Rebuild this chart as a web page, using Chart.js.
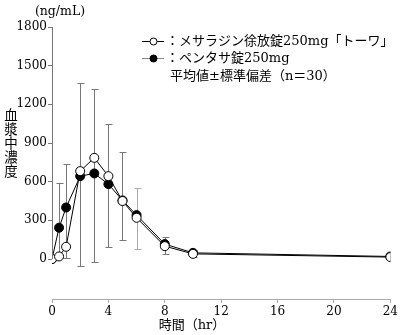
<!DOCTYPE html>
<html>
<head>
<meta charset="utf-8">
<script src="https://cdn.jsdelivr.net/npm/chart.js@4"></script>
<style>
  body { margin: 0; background: #fff; }
  canvas { display: block; }
</style>
</head>
<body>
<canvas id="chart" width="400" height="335"></canvas>
<script>
// Time points (hr) and mean plasma concentrations (ng/mL)
const times = [0, 0.5, 1, 2, 3, 4, 5, 6, 8, 10, 24];
const towa = [0, 20, 95, 682, 785, 643, 450, 320, 100, 40, 15];
const pentasa = [0, 243, 400, 643, 664, 581, 455, 341, 116, 48, 20];

// Error bar ends (mean ± SD)
const barTop = [0, 591, 741, 1369, 1317, 1044, 832, 553, 173, 70, 20];
const barBottom = [0, 5, 5, -54, -21, 95, 147, 78, 36, 15, 20];

const yTicks = [0, 300, 600, 900, 1200, 1500, 1800];
const xTicks = [0, 4, 8, 12, 16, 20, 24];

const legendLabels = ['：メサラジン徐放錠250mg「トーワ」', '：ペンタサ錠250mg', '平均値±標準偏差（n＝30）'];
const yTitle = '血漿中濃度';
const yUnit = '(ng/mL)';
const xTitle = '時間（hr）';

const serif = "'DejaVu Serif', 'Liberation Serif', serif";
const jp = "'DejaVu Serif', 'Noto Sans CJK JP', sans-serif";

const barColors = ['#777', '#777', '#777', '#777', '#777', '#777', '#777', '#aaa', '#777', '#777', '#777'];

const overlay = {
    id: 'overlay',
    beforeDatasetsDraw(chart) {
        const ctx = chart.ctx;
        const x = chart.scales.x, y = chart.scales.y;
        ctx.save();
        ctx.lineWidth = 1;
        times.forEach((t, i) => {
            if (barTop[i] === barBottom[i]) return;
            const px = Math.round(x.getPixelForValue(t)) + 0.5;
            const top = Math.round(y.getPixelForValue(barTop[i])) + 0.5;
            const bot = Math.round(y.getPixelForValue(barBottom[i])) + 0.5;
            ctx.strokeStyle = barColors[i];
            ctx.beginPath();
            ctx.moveTo(px, top); ctx.lineTo(px, bot);
            ctx.moveTo(px - 3, top); ctx.lineTo(px + 4, top);
            ctx.moveTo(px - 3, bot); ctx.lineTo(px + 4, bot);
            ctx.stroke();
        });
        ctx.restore();
    },
    afterDraw(chart) {
        const ctx = chart.ctx;
        const x = chart.scales.x, y = chart.scales.y;
        ctx.save();

        // y axis line only over the data range
        const ax = Math.round(x.getPixelForValue(0)) + 0.5;
        ctx.strokeStyle = '#777';
        ctx.lineWidth = 1;
        ctx.beginPath();
        ctx.moveTo(ax, y.getPixelForValue(1800));
        ctx.lineTo(ax, y.getPixelForValue(0));
        ctx.stroke();

        ctx.fillStyle = '#000';
        ctx.textBaseline = 'middle';

        // unit above the y axis
        ctx.font = '12.5px ' + serif;
        ctx.textAlign = 'center';
        ctx.fillText(yUnit, 60, 12);

        // vertical y title, stacked characters
        ctx.font = '13.5px ' + jp;
        [...yTitle].forEach((ch, i) => ctx.fillText(ch, 11, 116 + i * 14));

        // x title
        ctx.font = '13px ' + jp;
        ctx.fillText(xTitle, 192, 326);

        // legend
        const rows = [41, 58, 76];
        ctx.textAlign = 'left';
        for (let r = 0; r < 2; r++) {
            const ly = rows[r] + 0.5;
            ctx.strokeStyle = r === 0 ? '#000' : '#888';
            ctx.beginPath();
            ctx.moveTo(142, ly); ctx.lineTo(164, ly);
            ctx.stroke();
            ctx.beginPath();
            ctx.arc(153.5, ly, 3.5, 0, Math.PI * 2);
            ctx.fillStyle = r === 0 ? '#fff' : '#000';
            ctx.fill();
            ctx.strokeStyle = '#000';
            ctx.stroke();
            ctx.fillStyle = '#000';
            ctx.fillText(legendLabels[r], 166, rows[r] + 1);
        }
        ctx.fillText(legendLabels[2], 170, rows[2] + 1);
        ctx.restore();
    }
};

new Chart(document.getElementById('chart'), {
    type: 'line',
    data: {
        datasets: [
            {
                label: 'メサラジン徐放錠250mg「トーワ」',
                data: times.map((t, i) => ({ x: t, y: towa[i] })),
                borderColor: '#000',
                borderWidth: 1,
                pointRadius: 4.5,
                pointBackgroundColor: '#fff',
                pointBorderColor: '#000',
                pointBorderWidth: 1,
                tension: 0
            },
            {
                label: 'ペンタサ錠250mg',
                data: times.map((t, i) => ({ x: t, y: pentasa[i] })),
                borderColor: '#000',
                borderWidth: 1,
                pointRadius: 4.5,
                pointBackgroundColor: '#000',
                pointBorderColor: '#000',
                pointBorderWidth: 1,
                tension: 0
            }
        ]
    },
    options: {
        responsive: false,
        animation: false,
        layout: { padding: { top: 27, right: 8, left: 0, bottom: 0 } },
        plugins: { legend: { display: false }, tooltip: { enabled: false } },
        scales: {
            x: {
                type: 'linear',
                min: 0,
                max: 24,
                afterBuildTicks: s => { s.ticks = xTicks.map(v => ({ value: v })); },
                afterFit: s => { s.height = 36; },
                ticks: { color: '#000', font: { family: serif, size: 12 }, padding: 2, maxRotation: 0 },
                grid: { drawOnChartArea: false, tickLength: 4, color: '#aaa' },
                border: { color: '#aaa' }
            },
            y: {
                min: -310,
                max: 1800,
                afterBuildTicks: s => { s.ticks = yTicks.map(v => ({ value: v })); },
                afterFit: s => { s.width = 52; },
                ticks: { color: '#000', font: { family: serif, size: 12 }, padding: 1, callback: v => String(v) },
                grid: { drawOnChartArea: false, tickLength: 4, color: '#777' },
                border: { display: false }
            }
        }
    },
    plugins: [overlay]
});
</script>
</body>
</html>
